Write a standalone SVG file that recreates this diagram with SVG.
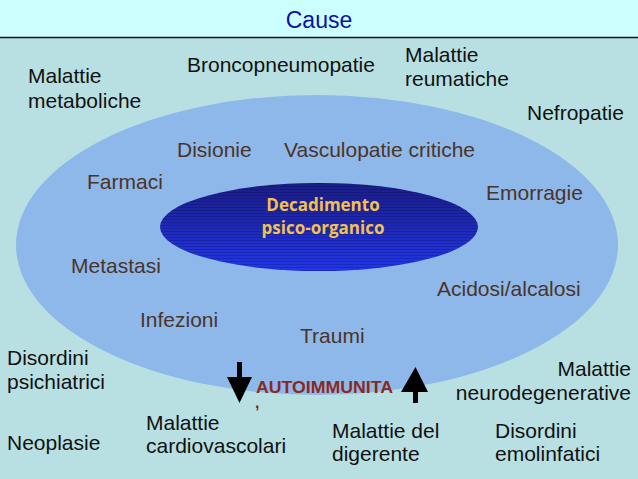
<svg xmlns="http://www.w3.org/2000/svg" width="638" height="479" viewBox="0 0 638 479">
<style>
.o{font-family:"Liberation Sans",Arial,sans-serif;font-size:21px;fill:#111}
.i{font-family:"Liberation Sans",Arial,sans-serif;font-size:21px;fill:#4a3428}
.c{font-family:"Open Sans","Liberation Sans",sans-serif;font-size:17px;font-weight:bold;fill:#f2c14e}
.ar{fill:#000}
</style>
<defs>
<linearGradient id="g" x1="0" y1="0" x2="0" y2="1">
<stop offset="0" stop-color="#1a1c86"/>
<stop offset="1" stop-color="#2236ea"/>
</linearGradient>
<pattern id="st" width="4" height="3" patternUnits="userSpaceOnUse">
<rect width="4" height="1" fill="#000" opacity="0.18"/>
</pattern>
</defs>
<rect width="638" height="479" fill="#b8e0e2"/>
<rect width="638" height="37" fill="#ccffff"/>
<line x1="0" y1="37.5" x2="638" y2="37.5" stroke="#111" stroke-width="1.5"/>
<text x="319" y="28" text-anchor="middle" style="font-family:'Liberation Sans',Arial,sans-serif;font-size:23px;fill:#0c12a6">Cause</text>

<g id="outer-ellipse">
<ellipse cx="317" cy="245" rx="301" ry="150" fill="#8fb8ea"/>
</g>
<g id="center">
<ellipse cx="319" cy="227" rx="159" ry="44" fill="url(#g)"/>
<ellipse cx="319" cy="227" rx="159" ry="44" fill="url(#st)"/>
<text class="c" x="323" y="211" text-anchor="middle">Decadimento</text>
<text class="c" x="323" y="234" text-anchor="middle">psico-organico</text>
</g>

<g id="inner-labels">
<text id="disionie" class="i" x="177" y="157">Disionie</text>
<text id="vasculopatie" class="i" x="284" y="157">Vasculopatie critiche</text>
<text id="farmaci" class="i" x="87" y="189">Farmaci</text>
<text id="emorragie" class="i" x="486" y="200">Emorragie</text>
<text id="metastasi" class="i" x="71" y="273">Metastasi</text>
<text id="acidosi" class="i" x="437" y="296">Acidosi/alcalosi</text>
<text id="infezioni" class="i" x="140" y="327">Infezioni</text>
<text id="traumi" class="i" x="300" y="343">Traumi</text>
</g>

<g id="outer-labels">
<text id="metaboliche" class="o" x="28" y="83">Malattie<tspan x="28" y="108">metaboliche</tspan></text>
<text id="bronco" class="o" x="187" y="72">Broncopneumopatie</text>
<text id="reumatiche" class="o" x="405" y="62">Malattie<tspan x="405" y="86">reumatiche</tspan></text>
<text id="nefropatie" class="o" x="527" y="120">Nefropatie</text>
<text id="psichiatrici" class="o" x="7" y="365">Disordini<tspan x="7" y="389">psichiatrici</tspan></text>
<text id="neoplasie" class="o" x="7" y="450">Neoplasie</text>
<text id="cardio" class="o" x="146" y="430">Malattie<tspan x="146" y="453">cardiovascolari</tspan></text>
<text id="neuro" class="o" x="631" y="376" text-anchor="end">Malattie<tspan x="631" y="400">neurodegenerative</tspan></text>
<text id="digerente" class="o" x="332" y="438">Malattie del<tspan x="332" y="461">digerente</tspan></text>
<text id="emolinfatici" class="o" x="495" y="438">Disordini<tspan x="495" y="461">emolinfatici</tspan></text>
</g>

<g id="connectors">
<polygon class="ar" points="237,362 242,362 242,377 252,377 239.5,403 227,377 237,377"/>
<polygon class="ar" points="413,403 418,403 418,392 428,392 415.5,367 401,392 413,392"/>
</g>
<g id="autoimmunita">
<text x="256" y="393" textLength="137" lengthAdjust="spacingAndGlyphs" style="font-family:'Liberation Sans',Arial,sans-serif;font-size:16px;font-weight:bold;fill:#8a2a1c">AUTOIMMUNITA</text>
<text x="255" y="408" style="font-family:'Liberation Sans',Arial,sans-serif;font-size:16px;font-weight:bold;fill:#8a2a1c">,</text>
</g>
</svg>
